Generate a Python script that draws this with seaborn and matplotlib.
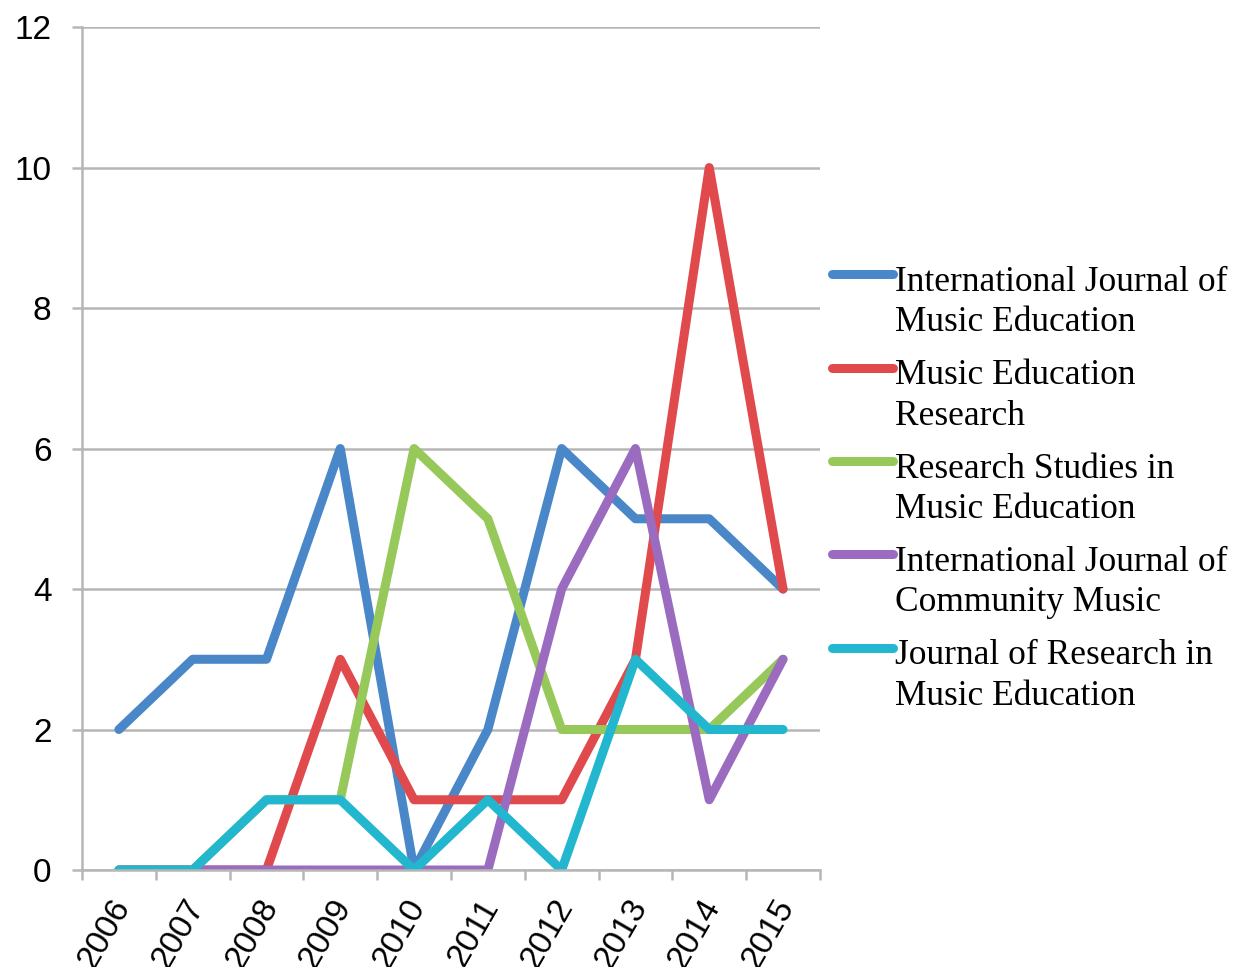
import numpy as np
import pandas as pd
import matplotlib
matplotlib.use("Agg")
import matplotlib.pyplot as plt
import matplotlib.transforms as mtransforms
import seaborn as sns
from matplotlib.legend_handler import HandlerLine2D
from matplotlib.ticker import MultipleLocator

years = [2006, 2007, 2008, 2009, 2010, 2011, 2012, 2013, 2014, 2015]
journals = [
    "International Journal of\nMusic Education",
    "Music Education\nResearch",
    "Research Studies in\nMusic Education",
    "International Journal of\nCommunity Music",
    "Journal of Research in\nMusic Education",
]
ijme = [2, 3, 3, 6, 0, 2, 6, 5, 5, 4]
mer = [0, 0, 0, 3, 1, 1, 1, 3, 10, 4]
rsme = [0, 0, 1, 1, 6, 5, 2, 2, 2, 3]
ijcm = [0, 0, 0, 0, 0, 0, 4, 6, 1, 3]
jrme = [0, 0, 1, 1, 0, 1, 0, 3, 2, 2]
colors = ["#4a87c8", "#e04a4c", "#97c85a", "#9a6bbf", "#22b7cf"]

rows = []
for name, vals in zip(journals, [ijme, mer, rsme, ijcm, jrme]):
    for y, v in zip(years, vals):
        rows.append({"Year": y, "Journal": name, "Count": v})
df = pd.DataFrame(rows)

sns.set_theme(style="white")
plt.rcParams["font.family"] = ["Liberation Sans", "DejaVu Sans"]
plt.rcParams["text.color"] = "black"
plt.rcParams["xtick.labelcolor"] = "black"
plt.rcParams["ytick.labelcolor"] = "black"

grey = "#b6b6b6"

fig = plt.figure(figsize=(12.33, 9.67), dpi=100)
ax = fig.add_axes([0.0665, 0.1003, 0.5985, 0.8717])

sns.lineplot(data=df, x="Year", y="Count", hue="Journal", hue_order=journals,
             palette=colors, linewidth=6.5, solid_capstyle="round",
             solid_joinstyle="round", ax=ax, legend=True)

ax.set_xlim(2005.5, 2015.5)
ax.set_ylim(0, 12)
ax.yaxis.set_major_locator(MultipleLocator(2))
ax.set_xticks(years)
ax.set_xticks([y - 0.5 for y in years] + [2015.5], minor=True)
ax.tick_params(axis="x", which="major", length=0, pad=23, labelcolor="black")
ax.tick_params(axis="x", which="minor", length=7, width=1.8, color=grey, bottom=True)
ax.tick_params(axis="y", which="major", length=7, width=1.8, color=grey, left=True,
               labelsize=24, pad=15, labelcolor="black")
ax.set_xticklabels([str(y) for y in years], rotation=60, ha="right", va="center",
                   rotation_mode="anchor", fontsize=24)
# nudge the year labels a little to the right
shift = mtransforms.ScaledTranslation(3 / 72, 0, fig.dpi_scale_trans)
for lbl in ax.get_xticklabels():
    lbl.set_transform(lbl.get_transform() + shift)

ax.grid(axis="y", color=grey, linewidth=1.8)
ax.set_axisbelow(True)
for side in ["top", "right"]:
    ax.spines[side].set_visible(False)
for side in ["left", "bottom"]:
    ax.spines[side].set_color(grey)
    ax.spines[side].set_linewidth(1.8)
ax.set_xlabel("")
ax.set_ylabel("")


class TopLineHandler(HandlerLine2D):
    # put the legend line next to the first text line, like the original
    def create_artists(self, legend, orig_handle, xdescent, ydescent, width, height,
                       fontsize, trans):
        arts = super().create_artists(legend, orig_handle, xdescent, ydescent, width,
                                      height, fontsize, trans)
        for a in arts:
            a.set_ydata(np.asarray(a.get_ydata()) + 0.8 * fontsize)
        return arts


handles, labels = ax.get_legend_handles_labels()
ax.get_legend().remove()
leg = fig.legend(handles, labels, loc="upper left", bbox_to_anchor=(0.675, 0.725),
                 frameon=False, prop={"family": "Liberation Serif", "size": 25.5},
                 handlelength=1.72, handletextpad=0.05, labelspacing=0.56,
                 borderpad=0, borderaxespad=0, labelcolor="black",
                 handler_map={h: TopLineHandler() for h in handles})
for t in leg.get_texts():
    t.set_linespacing(1.3)
for h in leg.legend_handles:
    h.set_linewidth(6.5)
    h.set_solid_capstyle("round")

fig.savefig("out.png", dpi=100)
